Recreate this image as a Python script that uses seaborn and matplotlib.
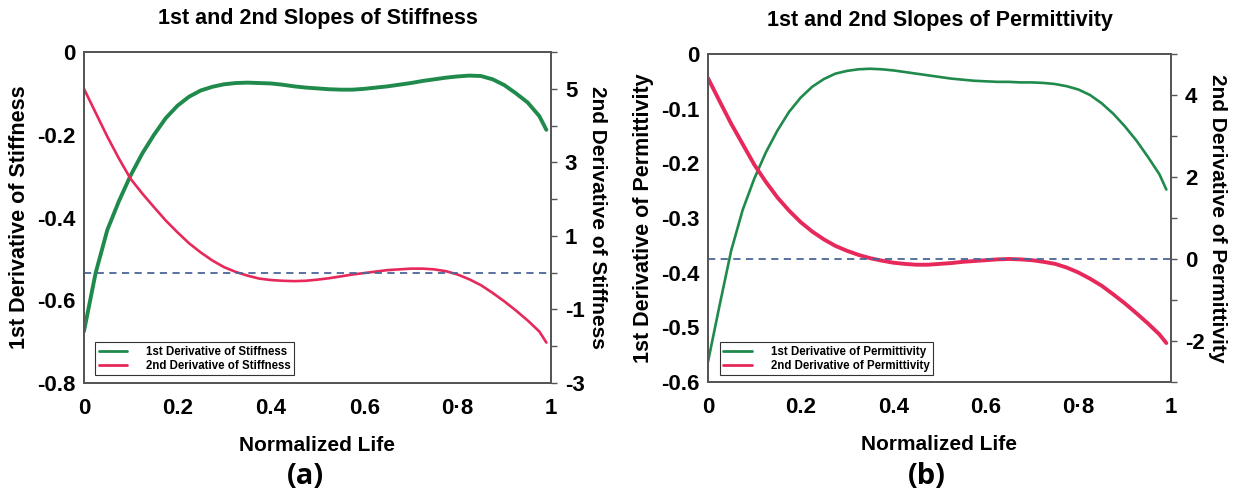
import matplotlib
matplotlib.use("Agg")
import matplotlib.pyplot as plt
import seaborn as sns
import pandas as pd
from matplotlib.lines import Line2D

sns.set_style("white")
plt.rcParams['font.family'] = ['Liberation Sans', 'DejaVu Sans']
plt.rcParams['font.weight'] = 'bold'
plt.rcParams['text.color'] = 'black'
plt.rcParams['axes.labelcolor'] = 'black'
plt.rcParams['xtick.color'] = 'black'
plt.rcParams['ytick.color'] = 'black'

# ---------------- data ----------------
life = [0, 0.025, 0.05, 0.075, 0.1, 0.125, 0.15, 0.175, 0.2, 0.225, 0.25, 0.275,
        0.3, 0.325, 0.35, 0.375, 0.4, 0.425, 0.45, 0.475, 0.5, 0.525, 0.55, 0.575,
        0.6, 0.625, 0.65, 0.675, 0.7, 0.725, 0.75, 0.775, 0.8, 0.825, 0.85, 0.875,
        0.9, 0.925, 0.95, 0.975, 0.99]

stiff_d1 = [-0.675, -0.534, -0.430, -0.360, -0.298, -0.245, -0.200, -0.160, -0.130,
            -0.108, -0.093, -0.084, -0.078, -0.075, -0.074, -0.075, -0.076, -0.079,
            -0.083, -0.086, -0.088, -0.090, -0.091, -0.091, -0.089, -0.086, -0.083,
            -0.079, -0.075, -0.070, -0.066, -0.062, -0.059, -0.057, -0.058, -0.066,
            -0.080, -0.100, -0.122, -0.155, -0.188]
stiff_d2 = [5.00, 4.35, 3.70, 3.10, 2.55, 2.15, 1.78, 1.42, 1.10, 0.80, 0.55, 0.33,
            0.15, 0.02, -0.08, -0.16, -0.20, -0.22, -0.23, -0.22, -0.19, -0.15,
            -0.10, -0.05, -0.01, 0.03, 0.07, 0.09, 0.11, 0.11, 0.09, 0.04, -0.05,
            -0.18, -0.34, -0.55, -0.78, -1.03, -1.30, -1.60, -1.90]

perm_d1 = [-0.563, -0.460, -0.360, -0.285, -0.228, -0.180, -0.140, -0.106, -0.080,
           -0.060, -0.046, -0.036, -0.031, -0.028, -0.027, -0.028, -0.030, -0.033,
           -0.036, -0.039, -0.042, -0.045, -0.047, -0.049, -0.050, -0.051, -0.051,
           -0.052, -0.052, -0.053, -0.055, -0.059, -0.065, -0.075, -0.090, -0.109,
           -0.132, -0.158, -0.188, -0.220, -0.248]
perm_d2 = [4.41, 3.85, 3.30, 2.80, 2.30, 1.88, 1.50, 1.18, 0.90, 0.67, 0.48, 0.32,
           0.20, 0.10, 0.02, -0.04, -0.09, -0.12, -0.14, -0.14, -0.12, -0.10,
           -0.07, -0.05, -0.03, -0.01, 0.00, -0.01, -0.03, -0.07, -0.12, -0.21,
           -0.33, -0.48, -0.65, -0.86, -1.08, -1.32, -1.57, -1.84, -2.05]

x_ticks = [0, 0.2, 0.4, 0.6, 0.8, 1]
x_ticklabels = ["0", "0.2", "0.4", "0.6", "0\u00b78", "1"]

stiff_left_ticks = [0, -0.2, -0.4, -0.6, -0.8]
stiff_left_labels = ["0", "-0.2", "-0.4", "-0.6", "-0.8"]
stiff_right_ticks = [-3, -2, -1, 0, 1, 2, 3, 4, 5, 6]
stiff_right_labels = ["-3", "", "-1", "", "1", "", "3", "", "5", ""]

perm_left_ticks = [0, -0.1, -0.2, -0.3, -0.4, -0.5, -0.6]
perm_left_labels = ["0", "-0.1", "-0.2", "-0.3", "-0.4", "-0.5", "-0.6"]
perm_right_ticks = [-3, -2, -1, 0, 1, 2, 3, 4, 5]
perm_right_labels = ["", "-2", "", "0", "", "2", "", "4", ""]

GREEN = "#1f8a4c"
RED = "#e6295a"
DASH = "#4a6796"
SPINE = "#555555"

fig = plt.figure(figsize=(12.33, 4.93), dpi=100)

panels = [
    dict(rect=[0.0681, 0.2231, 0.3788, 0.6714], d1=stiff_d1, d2=stiff_d2,
         name="Stiffness", ylim1=(-0.8, 0), ylim2=(-3, 6),
         lt=stiff_left_ticks, ll=stiff_left_labels,
         rt=stiff_right_ticks, rl=stiff_right_labels,
         lw1=2.8, lw2=1.9, tag="(a)", leg=(0.024, 0.024)),
    dict(rect=[0.5742, 0.2252, 0.3755, 0.6653], d1=perm_d1, d2=perm_d2,
         name="Permittivity", ylim1=(-0.6, 0), ylim2=(-3, 5),
         lt=perm_left_ticks, ll=perm_left_labels,
         rt=perm_right_ticks, rl=perm_right_labels,
         lw1=1.9, lw2=2.8, tag="(b)", leg=(0.026, 0.021)),
]

for p in panels:
    df = pd.DataFrame({"life": life, "d1": p["d1"], "d2": p["d2"]})
    ax = fig.add_axes(p["rect"])
    ax2 = ax.twinx()
    sns.lineplot(data=df, x="life", y="d1", ax=ax, color=GREEN, lw=p["lw1"])
    sns.lineplot(data=df, x="life", y="d2", ax=ax2, color=RED, lw=p["lw2"])
    ax2.axhline(0, color=DASH, lw=1.3, ls=(0, (4, 3)))

    ax.set_xlim(0, 1)
    ax.set_ylim(*p["ylim1"])
    ax2.set_ylim(*p["ylim2"])

    ax.set_xticks(x_ticks)
    ax.set_xticklabels(x_ticklabels, fontsize=16, fontweight="bold")
    ax.set_yticks(p["lt"])
    ax.set_yticklabels(p["ll"], fontsize=16, fontweight="bold")
    ax.tick_params(axis="both", length=0)
    ax.tick_params(axis="x", pad=11)
    ax.tick_params(axis="y", pad=6)

    ax2.set_yticks(p["rt"])
    ax2.set_yticklabels(p["rl"], fontsize=16, fontweight="bold")
    ax2.tick_params(axis="y", direction="out", length=4, width=1, color=SPINE,
                    labelcolor="black", pad=6)

    for a in (ax, ax2):
        for s in a.spines.values():
            s.set_visible(True)
            s.set_color(SPINE)
            s.set_linewidth(1.3)

    ax.set_xlabel("Normalized Life", fontsize=15, fontweight="bold", labelpad=12)
    ax.set_ylabel("1st Derivative of " + p["name"], fontsize=15.5, fontweight="bold", labelpad=5)
    ax2.set_ylabel("2nd Derivative of " + p["name"], fontsize=15, fontweight="bold",
                   rotation=270, labelpad=16)
    ax.set_title("1st and 2nd Slopes of " + p["name"], fontsize=15.5, fontweight="bold", pad=20)

    handles = [Line2D([], [], color=GREEN, lw=2), Line2D([], [], color=RED, lw=2)]
    leg = ax.legend(handles, ["1st Derivative of " + p["name"], "2nd Derivative of " + p["name"]],
                    loc="lower left", bbox_to_anchor=p["leg"], borderaxespad=0,
                    fancybox=False, framealpha=1, edgecolor="#333333",
                    prop=dict(size=8.3, weight="bold"), handlelength=2.5,
                    handletextpad=1.6, borderpad=0.3, labelspacing=0.15)
    leg.get_frame().set_linewidth(0.8)
    ax2.set_zorder(ax.get_zorder() + 1)
    ax2.patch.set_visible(False)
    leg.remove()
    ax2.add_artist(leg)

    cx = p["rect"][0] + p["rect"][2] / 2
    fig.text(cx - 0.01, 0.033, p["tag"], ha="center", va="center", fontsize=21,
             fontweight="bold", family=["Open Sans", "DejaVu Sans"])

fig.savefig("out.png", dpi=100)
